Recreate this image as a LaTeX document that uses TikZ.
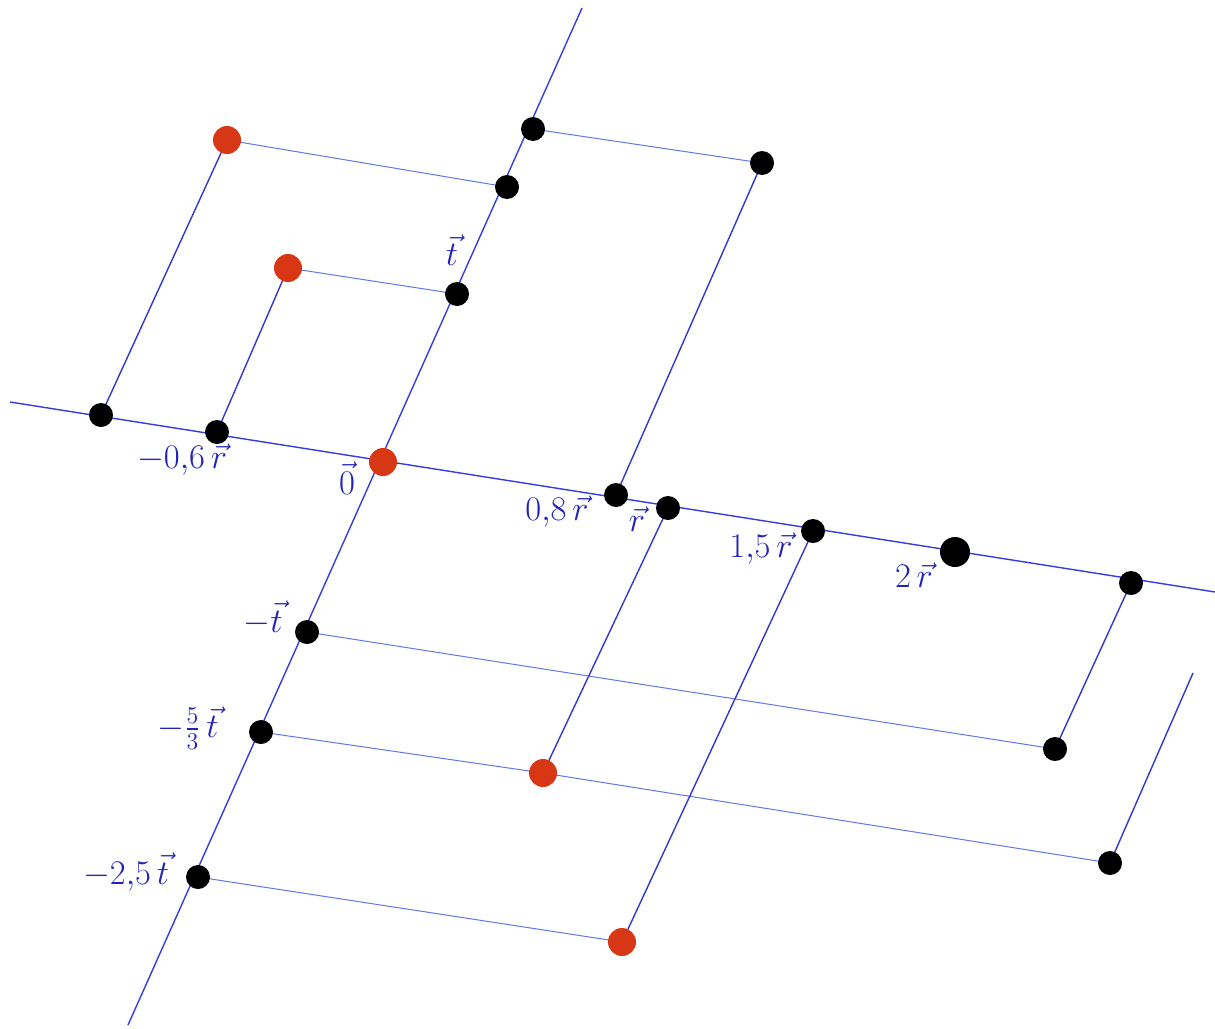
\documentclass[tikz,border=0pt]{standalone}
\usepackage{amsmath}
\begin{document}
\begin{tikzpicture}[x=0.5pt,y=-0.5pt,
  axisline/.style={draw={rgb,255:red,55;green,60;blue,225},line width=0.7pt},
  tline/.style={draw={rgb,255:red,50;green,55;blue,210},line width=0.7pt},
  rline/.style={draw={rgb,255:red,95;green,120;blue,235},line width=0.5pt},
  bdot/.style={circle,fill=black,inner sep=0pt,minimum size=12pt},
  bigdot/.style={circle,fill=black,inner sep=0pt,minimum size=15pt},
  rdot/.style={circle,fill={rgb,255:red,215;green,55;blue,20},inner sep=0pt,minimum size=14pt},
  lbl/.style={text={rgb,255:red,35;green,35;blue,185},font=\LARGE,inner sep=0pt}]
\useasboundingbox (0,0) rectangle (1215,1028);
% axes
\coordinate (rA) at (10,402);
\coordinate (rB) at (1215,592);
\coordinate (tA) at (128,1025);
\coordinate (tB) at (582,8);
\coordinate (H) at (1193,673);
\draw[axisline] (rA) -- (rB);
\draw[axisline] (tA) -- (tB);
% points positions
\coordinate (O) at (383,462);
\coordinate (pt) at (457,294);
\coordinate (pt53) at (507,187);
\coordinate (pt2) at (533,129);
\coordinate (ptm1) at (307,632);
\coordinate (ptm53) at (261,732);
\coordinate (ptm25) at (198,877);
\coordinate (prm1) at (101,415);
\coordinate (prm06) at (217,432);
\coordinate (pr08) at (616,495);
\coordinate (pr1) at (668,508);
\coordinate (pr15) at (813,531);
\coordinate (pr2) at (955,552);
\coordinate (pr26) at (1131,583);
\coordinate (pA) at (227,140);
\coordinate (pB) at (288,268);
\coordinate (pC) at (762,163);
\coordinate (pD) at (1055,749);
\coordinate (pE) at (543,773);
\coordinate (pF) at (1110,863);
\coordinate (pG) at (622,942);
% construction lines
\draw[rline] (pt53) -- (pA);
\draw[tline] (pA) -- (prm1);
\draw[rline] (pt) -- (pB);
\draw[tline] (pB) -- (prm06);
\draw[rline] (pt2) -- (pC);
\draw[tline] (pC) -- (pr08);
\draw[rline] (ptm1) -- (pD);
\draw[tline] (pD) -- (pr26);
\draw[rline] (ptm53) -- (pE);
\draw[tline] (pE) -- (pr1);
\draw[rline] (pE) -- (pF);
\draw[tline] (pF) -- (H);
\draw[rline] (ptm25) -- (pG);
\draw[tline] (pG) -- (pr15);
% dots
\node[rdot] (O0) at (O) {};
\node[bdot] (t1) at (pt) {};
\node[bdot] (t53) at (pt53) {};
\node[bdot] (t2) at (pt2) {};
\node[bdot] (tm1) at (ptm1) {};
\node[bdot] (tm53) at (ptm53) {};
\node[bdot] (tm25) at (ptm25) {};
\node[bdot] (rm1) at (prm1) {};
\node[bdot] (rm06) at (prm06) {};
\node[bdot] (r08) at (pr08) {};
\node[bdot] (r1) at (pr1) {};
\node[bdot] (r15) at (pr15) {};
\node[bigdot] (r2) at (pr2) {};
\node[bdot] (r26) at (pr26) {};
\node[rdot] (A) at (pA) {};
\node[rdot] (B) at (pB) {};
\node[bdot] (C) at (pC) {};
\node[bdot] (D) at (pD) {};
\node[rdot] (E) at (pE) {};
\node[bdot] (F) at (pF) {};
\node[rdot] (G) at (pG) {};
% labels
\node[lbl] (Lt) at (452,250) {$\vec{t}$};
\node[lbl] (L0) at (347,478) {$\vec{0}$};
\node[lbl] (Lm06) at (182,460) {$-0{,}6\,\vec{r}$};
\node[lbl] (L08) at (557,512) {$0{,}8\,\vec{r}$};
\node[lbl] (L1) at (637,519) {$\vec{r}$};
\node[lbl] (L15) at (761,549) {$1{,}5\,\vec{r}$};
\node[lbl] (L2) at (914,575) {$2\,\vec{r}$};
\node[lbl] (Lm1) at (263,618) {$-\vec{t}$};
\node[lbl] (Lm53) at (188,728) {$-\frac{5}{3}\,\vec{t}$};
\node[lbl] (Lm25) at (126,872) {$-2{,}5\,\vec{t}$};
\end{tikzpicture}
\end{document}
